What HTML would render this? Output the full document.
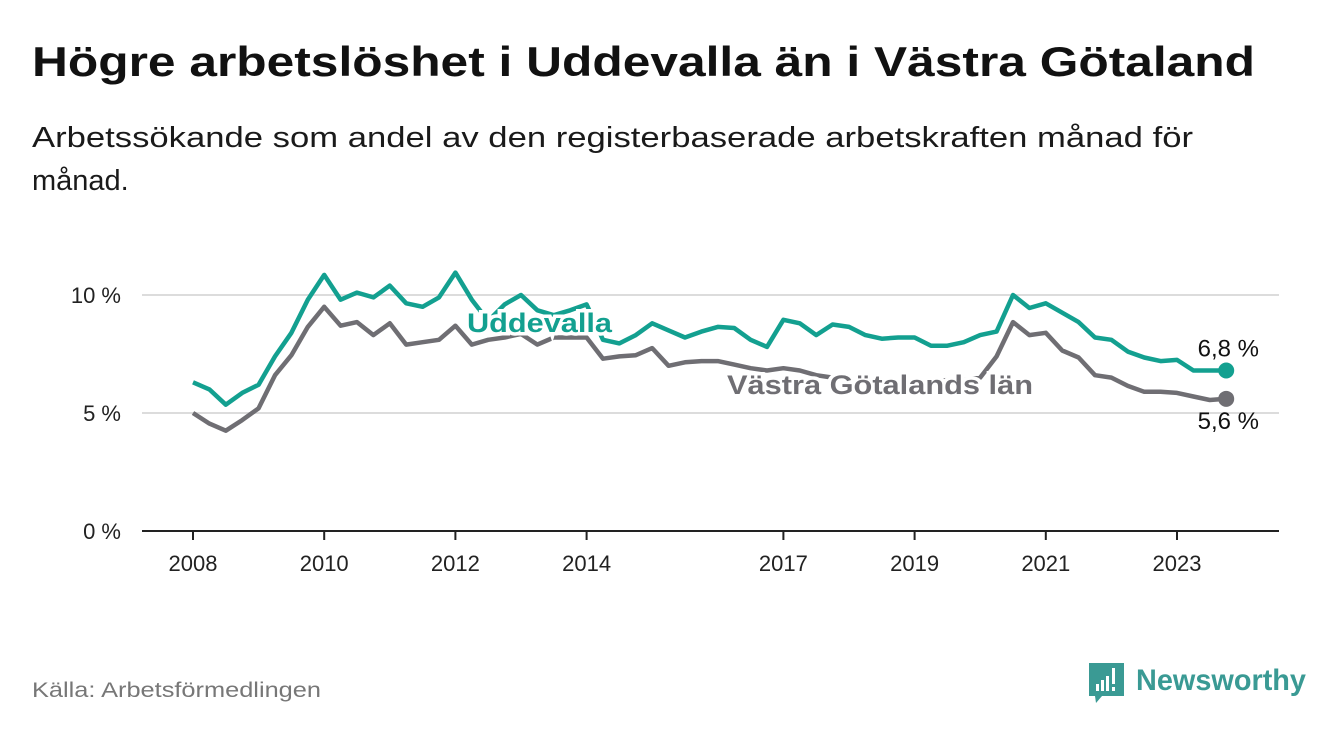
<!DOCTYPE html>
<html><head><meta charset="utf-8"><style>
html,body{margin:0;padding:0;background:#fff;}
svg{display:block;font-family:"Liberation Sans","DejaVu Sans",sans-serif;}
</style></head><body>
<svg id="chart" width="1340" height="734" viewBox="0 0 1340 734">
<text x="32" y="76" font-size="42" font-weight="bold" fill="#111" textLength="1223" lengthAdjust="spacingAndGlyphs">Högre arbetslöshet i Uddevalla än i Västra Götaland</text>
<text x="32" y="147" font-size="29" fill="#1a1a1a" textLength="1161" lengthAdjust="spacingAndGlyphs">Arbetssökande som andel av den registerbaserade arbetskraften månad för</text>
<text x="32" y="190" font-size="29" fill="#1a1a1a">månad.</text>
<g id="grid"></g>
<g id="xaxis"></g>
<g id="series"></g>
<text x="32" y="697" font-size="21" fill="#777" textLength="289" lengthAdjust="spacingAndGlyphs">Källa: Arbetsförmedlingen</text>
<g>
<path d="M1089 663 h35 v33 h-22 l-6 7 l-1 -7 h-6 z" fill="#3a9a94"/>
<rect x="1096" y="684" width="3" height="7" fill="#fff"/><rect x="1101" y="680" width="3" height="11" fill="#fff"/><rect x="1106" y="676" width="3" height="15" fill="#fff"/><rect x="1112" y="668" width="3" height="16" fill="#fff"/><rect x="1112" y="687" width="3" height="4" fill="#fff"/>
<text x="1136" y="690" font-size="30" font-weight="bold" fill="#3a9a94" textLength="170" lengthAdjust="spacingAndGlyphs">Newsworthy</text>
</g>
</svg>
<script>
const years = [2008,2008.25,2008.5,2008.75,2009,2009.25,2009.5,2009.75,2010,2010.25,2010.5,2010.75,2011,2011.25,2011.5,2011.75,2012,2012.25,2012.5,2012.75,2013,2013.25,2013.5,2013.75,2014,2014.25,2014.5,2014.75,2015,2015.25,2015.5,2015.75,2016,2016.25,2016.5,2016.75,2017,2017.25,2017.5,2017.75,2018,2018.25,2018.5,2018.75,2019,2019.25,2019.5,2019.75,2020,2020.25,2020.5,2020.75,2021,2021.25,2021.5,2021.75,2022,2022.25,2022.5,2022.75,2023,2023.25,2023.5,2023.75];
const uddevalla = [6.3,6.0,5.35,5.85,6.2,7.4,8.4,9.8,10.85,9.8,10.1,9.9,10.4,9.65,9.5,9.9,10.95,9.8,8.9,9.6,10.0,9.35,9.15,9.35,9.6,8.1,7.95,8.3,8.8,8.5,8.2,8.45,8.65,8.6,8.1,7.8,8.95,8.8,8.3,8.75,8.65,8.3,8.15,8.2,8.2,7.85,7.85,8.0,8.3,8.45,10.0,9.45,9.65,9.25,8.85,8.2,8.1,7.6,7.35,7.2,7.25,6.8,6.8,6.8];
const vastra = [5.0,4.55,4.25,4.7,5.2,6.6,7.45,8.65,9.5,8.7,8.85,8.3,8.8,7.9,8.0,8.1,8.7,7.9,8.1,8.2,8.35,7.9,8.2,8.2,8.2,7.3,7.4,7.45,7.75,7.0,7.15,7.2,7.2,7.05,6.9,6.8,6.9,6.8,6.6,6.5,6.4,6.3,6.3,6.3,6.3,6.3,6.4,6.4,6.5,7.4,8.85,8.3,8.4,7.65,7.35,6.6,6.5,6.15,5.9,5.9,5.85,5.7,5.55,5.6];
const yTicks = [0,5,10];
const yTickLabels = ["0 %","5 %","10 %"];
const xTicks = [2008,2010,2012,2014,2017,2019,2021,2023];
const NS="http://www.w3.org/2000/svg";
const xs = v => 193 + (v-2008)*65.6;
const ys = v => 531 - v*23.6;
function mk(tag, attrs, parent){const e=document.createElementNS(NS,tag);for(const k in attrs)e.setAttribute(k,attrs[k]);parent.appendChild(e);return e;}
const grid=document.getElementById('grid'), xa=document.getElementById('xaxis'), ser=document.getElementById('series');
yTicks.forEach((t,i)=>{
  if(t>0){const l=mk('line',{x1:142,x2:1279,y1:ys(t),y2:ys(t),stroke:'#dcdcdc','stroke-width':2},grid);
  
  }
  const tx=mk('text',{x:121,y:ys(t)+8,'font-size':22,fill:'#222','text-anchor':'end'},grid);
  tx.textContent=yTickLabels[i];
  
  
});
const ax=mk('line',{x1:142,x2:1279,y1:531,y2:531,stroke:'#222','stroke-width':2},xa);


xTicks.forEach(t=>{
  const tk=mk('line',{x1:xs(t),x2:xs(t),y1:531,y2:540,stroke:'#222','stroke-width':2},xa);
  
  
  const tx=mk('text',{x:xs(t),y:571,'font-size':22,fill:'#222','text-anchor':'middle'},xa);
  tx.textContent=t;
  
  
});
function pts(arr){return arr.map((v,i)=>xs(years[i]).toFixed(1)+','+ys(v).toFixed(1)).join(' ');}
const gl=mk('polyline',{points:pts(vastra),fill:'none',stroke:'#6f6e73','stroke-width':4.5,'stroke-linejoin':'round'},ser);


const tl=mk('polyline',{points:pts(uddevalla),fill:'none',stroke:'#13a090','stroke-width':4.5,'stroke-linejoin':'round'},ser);


const n=years.length-1;
const d1=mk('circle',{cx:xs(years[n]),cy:ys(uddevalla[n]),r:8,fill:'#13a090'},ser);


const d2=mk('circle',{cx:xs(years[n]),cy:ys(vastra[n]),r:8,fill:'#6f6e73'},ser);


const v1=mk('text',{x:1259,y:ys(uddevalla[n])-14,'font-size':24,fill:'#111','text-anchor':'end'},ser);
v1.textContent=uddevalla[n].toFixed(1).replace('.',',')+' %';


const v2=mk('text',{x:1259,y:ys(vastra[n])+30,'font-size':24,fill:'#111','text-anchor':'end'},ser);
v2.textContent=vastra[n].toFixed(1).replace('.',',')+' %';


const l1=mk('text',{x:467,y:332,'font-size':27,'font-weight':'bold',fill:'#13a090',stroke:'#fff','stroke-width':7,'paint-order':'stroke',textLength:145,lengthAdjust:'spacingAndGlyphs'},ser);
l1.textContent='Uddevalla';


const l2=mk('text',{x:727,y:394,'font-size':27,'font-weight':'bold',fill:'#6f6e73',stroke:'#fff','stroke-width':7,'paint-order':'stroke',textLength:306,lengthAdjust:'spacingAndGlyphs'},ser);
l2.textContent='Västra Götalands län';


</script>
</body></html>
